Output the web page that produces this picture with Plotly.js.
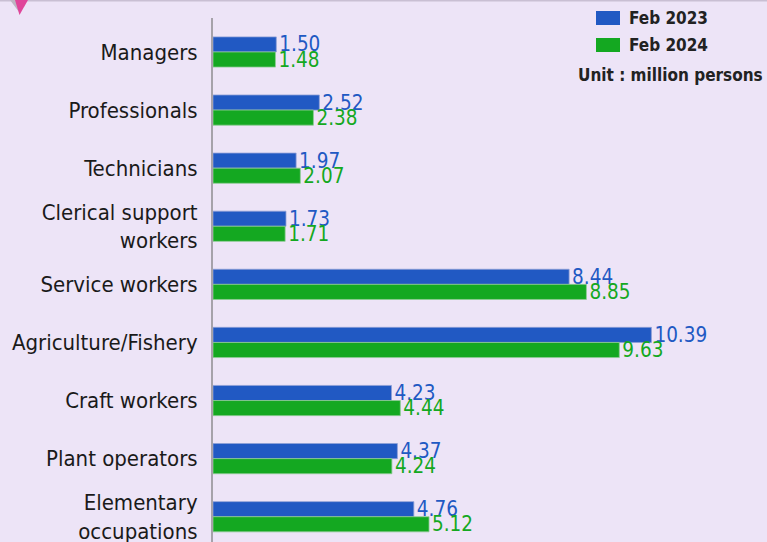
<!DOCTYPE html>
<html>
<head>
<meta charset="utf-8">
<script src="https://cdn.plot.ly/plotly-3.0.1.min.js"></script>
<style>
html,body{margin:0;padding:0;background:#EDE4F7;}
#chart{width:767px;height:542px;}
</style>
</head>
<body>
<div id="chart"></div>
<script>
const categories = ["Managers","Professionals","Technicians","Clerical support<br>workers","Service workers","Agriculture/Fishery","Craft workers","Plant operators","Elementary<br>occupations"];
const feb2023 = [1.50, 2.52, 1.97, 1.73, 8.44, 10.39, 4.23, 4.37, 4.76];
const feb2024 = [1.48, 2.38, 2.07, 1.71, 8.85, 9.63, 4.44, 4.24, 5.12];
const seriesNames = ["Feb 2023", "Feb 2024"];
const unitText = "Unit : million persons";

const FONT = '"DejaVu Sans Condensed", "DejaVu Sans", sans-serif';
const BLUE = '#2159C3';
const GREEN = '#14A821';

// plot area geometry (pixels)
const L = 213, T = 18, W = 767 - 213, H = 542 - 18;
const px = v => (v - L) / W;          // pixel x -> paper x
const py = v => (542 - v) / H;        // pixel y -> paper y

const traces = [
  {type:'bar', orientation:'h', name:seriesNames[0], y:categories, x:feb2023,
   marker:{color:BLUE, line:{color:'#8E9FD6', width:0.8}}, text:feb2023.map(v=>v.toFixed(2)), textposition:'outside',
   constraintext:'none', cliponaxis:false,
   textfont:{family:FONT, size:20.5, color:BLUE}, hoverinfo:'x+y'},
  {type:'bar', orientation:'h', name:seriesNames[1], y:categories, x:feb2024,
   marker:{color:GREEN, line:{color:'#8FCB95', width:0.8}}, text:feb2024.map(v=>v.toFixed(2)), textposition:'outside',
   constraintext:'none', cliponaxis:false,
   textfont:{family:FONT, size:20.5, color:GREEN}, hoverinfo:'x+y'}
];

const legendFont = {family:FONT, size:17, color:'#222', weight:'bold'};

const layout = {
  width:767, height:542,
  paper_bgcolor:'#EDE4F7', plot_bgcolor:'#EDE4F7',
  margin:{l:L, r:0, t:T, b:0, pad:0, autoexpand:false},
  barmode:'group', bargap:0.48, bargroupgap:0,
  font:{family:FONT, color:'#1a1a1a'},
  xaxis:{range:[0,13.13], visible:false, fixedrange:true},
  yaxis:{range:[8.435,-0.585], showline:true, linecolor:'#A6A2AA', linewidth:2,
         showgrid:false, zeroline:false, ticks:'', ticklabelstandoff:9,
         tickfont:{family:FONT, size:22, color:'#1a1a1a'}, fixedrange:true},
  showlegend:false,
  annotations:[
    {xref:'paper', yref:'paper', x:px(627), y:py(18), xanchor:'left', yanchor:'middle',
     text:seriesNames[0], showarrow:false, font:legendFont},
    {xref:'paper', yref:'paper', x:px(627), y:py(45), xanchor:'left', yanchor:'middle',
     text:seriesNames[1], showarrow:false, font:legendFont},
    {xref:'paper', yref:'paper', x:px(765), y:py(75), xanchor:'right', yanchor:'middle',
     text:unitText, showarrow:false, font:legendFont}
  ],
  shapes:[
    {type:'rect', xref:'paper', yref:'paper', x0:px(596), x1:px(620), y0:py(11), y1:py(25),
     fillcolor:BLUE, line:{width:0}},
    {type:'rect', xref:'paper', yref:'paper', x0:px(596), x1:px(620), y0:py(38), y1:py(52),
     fillcolor:GREEN, line:{width:0}},
    {type:'line', xref:'paper', yref:'paper', x0:px(0), x1:px(767), y0:py(0.7), y1:py(0.7),
     line:{color:'#C9BFD3', width:1.5}},
    {type:'path', xref:'paper', yref:'paper', line:{width:0}, fillcolor:'#BDB6C2',
     path:`M ${px(10)},${py(0)} L ${px(17)},${py(0)} L ${px(19)},${py(12)} Z`},
    {type:'path', xref:'paper', yref:'paper', line:{width:0}, fillcolor:'#E0459A',
     path:`M ${px(15)},${py(0)} L ${px(28)},${py(0)} L ${px(19.5)},${py(15)} Z`}
  ]
};

Plotly.newPlot('chart', traces, layout, {displayModeBar:false, staticPlot:true});
</script>
</body>
</html>
